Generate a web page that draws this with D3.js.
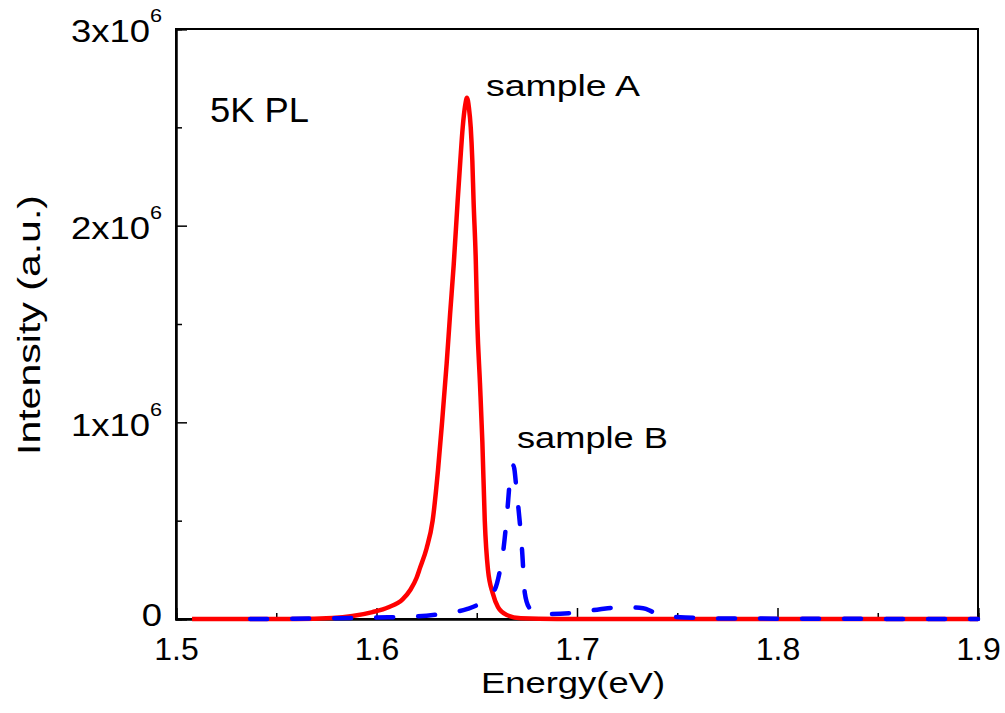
<!DOCTYPE html>
<html>
<head>
<meta charset="utf-8">
<script src="https://cdn.jsdelivr.net/npm/d3@7"></script>
<style>
  body { margin: 0; background: #fff; }
  text { font-family: "Liberation Sans", Arial, sans-serif; fill: #000; }
</style>
</head>
<body>
<div class="draw-plchart"></div>
<script>
// sample A (solid red) : energy in eV, intensity in units of 1e6
const energyA = [1.508, 1.560, 1.578, 1.588, 1.598, 1.606, 1.613, 1.617, 1.620, 1.6217, 1.625, 1.628, 1.6307, 1.6327, 1.635, 1.6367, 1.6385, 1.6405, 1.6418, 1.643, 1.6442, 1.6451, 1.6461, 1.647, 1.6478, 1.6484, 1.6495, 1.6503, 1.6516, 1.6528, 1.654, 1.6556, 1.658, 1.6606, 1.665, 1.672, 1.69, 1.9];
const intensityA = [0, 0, 0.005, 0.015, 0.035, 0.06, 0.1, 0.15, 0.21, 0.26, 0.36, 0.5, 0.76, 1.0, 1.3, 1.55, 1.8, 2.13, 2.33, 2.5, 2.61, 2.65, 2.6, 2.5, 2.33, 2.13, 1.83, 1.5, 1.2, 0.9, 0.5, 0.25, 0.13, 0.06, 0.02, 0.004, 0, 0];

// sample B (dashed blue)
const energyB = [1.537, 1.58, 1.60, 1.618, 1.635, 1.645, 1.6516, 1.656, 1.659, 1.662, 1.663, 1.665, 1.6666, 1.6683, 1.670, 1.6726, 1.674, 1.676, 1.679, 1.6815, 1.6855, 1.7015, 1.7115, 1.7224, 1.733, 1.738, 1.7434, 1.754, 1.77, 1.9];
const intensityB = [0, 0.004, 0.008, 0.012, 0.03, 0.05, 0.08, 0.12, 0.15, 0.27, 0.33, 0.52, 0.71, 0.78, 0.64, 0.35, 0.13, 0.06, 0.035, 0.03, 0.025, 0.035, 0.05, 0.06, 0.055, 0.035, 0.015, 0.008, 0.003, 0];

const xMajor = [1.5, 1.6, 1.7, 1.8, 1.9];
const xMinor = [1.55, 1.65, 1.75, 1.85];
const yMajor = [0, 1, 2, 3];
const yMinor = [0.5, 1.5, 2.5];

const draw = () => {
  const W = 1005, H = 713;
  const margin = { top: 29, right: 27, bottom: 94, left: 176 };
  const width = W - margin.left - margin.right;
  const height = H - margin.top - margin.bottom;

  const svg = d3.select(".draw-plchart")
    .append("svg")
    .attr("width", W)
    .attr("height", H)
    .append("g")
    .attr("transform", "translate(" + margin.left + "," + margin.top + ")");

  const x = d3.scaleLinear().domain([1.5, 1.9]).range([0, width]);
  const y = d3.scaleLinear().domain([0, 3]).range([height, 0]);

  // frame (top / right)
  svg.append("rect")
    .attr("width", width).attr("height", height)
    .attr("fill", "none").attr("stroke", "#000").attr("stroke-width", 2);

  // x axis
  const gx = svg.append("g")
    .attr("transform", "translate(0," + height + ")")
    .call(d3.axisBottom(x).tickValues(xMajor).tickSize(-11).tickPadding(18)
      .tickFormat(d3.format(".1f")));
  svg.append("g")
    .attr("transform", "translate(0," + height + ")")
    .call(d3.axisBottom(x).tickValues(xMinor).tickSize(-6).tickFormat(""));

  // y axis
  const gy = svg.append("g")
    .call(d3.axisLeft(y).tickValues(yMajor).tickSize(-11).tickPadding(14).tickFormat(""));
  svg.append("g")
    .call(d3.axisLeft(y).tickValues(yMinor).tickSize(-6).tickFormat(""));

  svg.selectAll(".domain").attr("stroke-width", 2);
  svg.selectAll(".tick line").attr("stroke-width", 1.5);
  gx.selectAll("text").style("font-size", "32px").style("font-family", null);

  // y labels: "n x 10^6", slightly wide like the original
  gy.selectAll(".tick text").each(function (d) {
    const t = d3.select(this)
      .style("font-size", "32px").style("font-family", null)
      .attr("x", 0)
      .attr("transform", "translate(-14,0) scale(1.14,1)");
    if (d === 0) {
      t.attr("dy", "0.2em").text("0");
    } else {
      t.attr("dy", "0.4em").text(d + "x10");
      t.append("tspan").attr("dy", -20).style("font-size", "19px").text("6");
    }
  });

  const line = d3.line()
    .x(d => x(d[0]))
    .y(d => y(d[1]))
    .curve(d3.curveMonotoneX);

  const dataA = d3.zip(energyA, intensityA);
  const dataB = d3.zip(energyB, intensityB);

  svg.append("path")
    .datum(dataA)
    .attr("fill", "none")
    .attr("stroke", "#ff0000")
    .attr("stroke-width", 4.5)
    .attr("stroke-linejoin", "round")
    .attr("d", line);

  svg.append("path")
    .datum(dataB)
    .attr("fill", "none")
    .attr("stroke", "#0000ff")
    .attr("stroke-width", 4.5)
    .attr("stroke-linecap", "round")
    .attr("stroke-dasharray", "17 25")
    .attr("d", line);

  // annotations
  svg.append("text").attr("x", 210 - margin.left).attr("y", 122 - margin.top)
    .style("font-size", "35px").attr("textLength", 99).attr("lengthAdjust", "spacingAndGlyphs")
    .text("5K PL");
  svg.append("text").attr("x", 486 - margin.left).attr("y", 96 - margin.top)
    .style("font-size", "30px").attr("textLength", 154).attr("lengthAdjust", "spacingAndGlyphs")
    .text("sample A");
  svg.append("text").attr("x", 517 - margin.left).attr("y", 448 - margin.top)
    .style("font-size", "30px").attr("textLength", 151).attr("lengthAdjust", "spacingAndGlyphs")
    .text("sample B");

  // axis titles
  svg.append("text")
    .attr("x", 573 - margin.left).attr("y", 693 - margin.top)
    .attr("text-anchor", "middle")
    .style("font-size", "29px").attr("textLength", 184).attr("lengthAdjust", "spacingAndGlyphs")
    .text("Energy(eV)");
  svg.append("text")
    .attr("transform", "translate(" + (40 - margin.left) + "," + (325 - margin.top) + ") rotate(-90)")
    .attr("text-anchor", "middle")
    .style("font-size", "32px").attr("textLength", 260).attr("lengthAdjust", "spacingAndGlyphs")
    .text("Intensity (a.u.)");
};

draw();
</script>
</body>
</html>
